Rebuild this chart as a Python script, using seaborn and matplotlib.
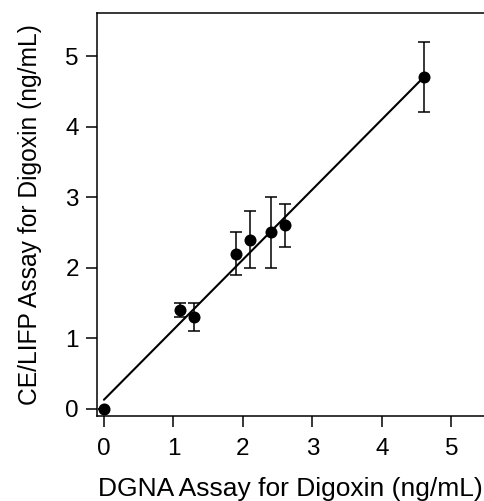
import numpy as np
import pandas as pd
import matplotlib
matplotlib.use("Agg")
import matplotlib.pyplot as plt
import seaborn as sns

# DGNA assay (x) vs CE/LIFP assay (y), ng/mL
dgna = [0.0, 1.1, 1.3, 1.9, 2.1, 2.4, 2.6, 4.6]
ce_lifp = [0.0, 1.4, 1.3, 2.2, 2.4, 2.5, 2.6, 4.7]
ce_err = [0.0, 0.1, 0.2, 0.3, 0.4, 0.5, 0.3, 0.5]

# fitted line
fit_intercept = 0.13
fit_slope = 0.993

ticks = [0, 1, 2, 3, 4, 5]

sns.set_style("ticks")
plt.rcParams['font.family'] = ['Liberation Sans', 'DejaVu Sans']
plt.rcParams['text.color'] = 'black'
plt.rcParams['axes.labelcolor'] = 'black'
plt.rcParams['xtick.color'] = 'black'
plt.rcParams['ytick.color'] = 'black'

df = pd.DataFrame({'x': dgna, 'y': ce_lifp, 'err': ce_err})
line_x = np.array([min(dgna), max(dgna)])
line_df = pd.DataFrame({'x': line_x, 'y': fit_intercept + fit_slope * line_x})

fig = plt.figure(figsize=(4.84, 5.01), dpi=100)
ax = fig.add_axes([0.2004, 0.1697, 0.7996, 0.8044])

sns.lineplot(data=line_df, x='x', y='y', color='black', linewidth=1.5, ax=ax)
ax.errorbar(df['x'], df['y'], yerr=df['err'], fmt='none', ecolor='black',
            elinewidth=1.1, capsize=4, capthick=1.1)
sns.scatterplot(data=df, x='x', y='y', color='black', s=75, edgecolor='black',
                linewidth=0, zorder=5, ax=ax)

ax.set_xlim(-0.1, 5.47)
ax.set_ylim(-0.1, 5.61)
ax.set_xticks(ticks)
ax.set_yticks(ticks)
ax.tick_params(axis='both', length=8, width=1.1, labelsize=17.5)
ax.tick_params(axis='x', pad=8)
ax.tick_params(axis='y', pad=5)
ax.spines['right'].set_visible(False)
for s in ['left', 'top', 'bottom']:
    ax.spines[s].set_linewidth(1.1)
    ax.spines[s].set_color('black')

ax.set_xlabel('DGNA Assay for Digoxin (ng/mL)', fontsize=19, labelpad=12)
ax.set_ylabel('CE/LIFP Assay for Digoxin (ng/mL)', fontsize=17.7, labelpad=17)

fig.savefig('out.png', dpi=100)
